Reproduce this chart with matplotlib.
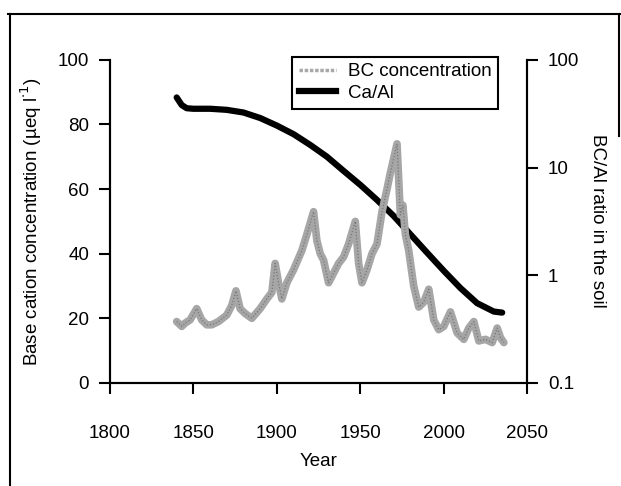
import numpy as np
import matplotlib.pyplot as plt
from matplotlib.lines import Line2D

plt.rcParams['font.family'] = ['Liberation Sans', 'DejaVu Sans']
plt.rcParams['font.size'] = 13.5

# base cation concentration in soil water (ueq/l)
bc_years = [1840, 1843, 1845, 1848, 1852, 1855, 1858, 1861, 1865, 1870,
            1873, 1875.5, 1878, 1881, 1885, 1890, 1894, 1897, 1899, 1901,
            1903, 1906, 1910, 1915, 1918, 1922, 1924, 1926, 1928, 1931,
            1934, 1937, 1940, 1943, 1947, 1949, 1951, 1954, 1957, 1960,
            1963, 1966, 1968, 1972, 1974, 1975.5, 1977, 1979, 1982, 1985,
            1988, 1991, 1994, 1997, 2000, 2004, 2008, 2012, 2015, 2018,
            2021, 2025, 2029, 2032, 2034, 2036]
bc_conc = [19, 17.5, 18.5, 19.5, 23, 19.5, 18, 18, 19, 21,
           24, 28.5, 23, 21.5, 20, 23, 26, 28, 37, 31,
           26, 31, 35, 41, 46, 53, 44, 40, 38, 31,
           34, 37, 39, 43, 50, 37, 31, 35, 40, 43,
           53, 60, 65, 74, 52, 55, 46, 41, 30, 23.5,
           25, 29, 19.5, 16.5, 17.5, 22, 15.5, 13.5, 17, 19,
           13, 13.5, 12.5, 17, 14, 12.5]

# Ca/Al ratio in the soil
ca_years = [1840, 1843, 1846, 1850, 1860, 1870, 1880, 1890, 1900, 1910,
            1920, 1930, 1940, 1950, 1960, 1970, 1980, 1990, 2000, 2010,
            2020, 2030, 2035]
ca_al = [44.7, 38, 35.5, 35.1, 35.1, 34.3, 32.4, 28.8, 24.5, 20.4,
         16.2, 12.6, 9.3, 6.9, 5.0, 3.55, 2.4, 1.62, 1.1, 0.76,
         0.55, 0.46, 0.45]

fig = plt.figure(figsize=(6.21, 4.86), dpi=100)
ax = fig.add_axes([0.177, 0.212, 0.672, 0.665])
ax2 = ax.twinx()

ax2.plot(ca_years, ca_al, color='black', lw=4.5, solid_capstyle='round')
ax2.set_yscale('log')
ax2.set_ylim(0.1, 100)
ax2.set_yticks([0.1, 1, 10, 100])
ax2.set_yticklabels(['0.1', '1', '10', '100'])
ax2.minorticks_off()
ax2.set_ylabel('BC/Al ratio in the soil', rotation=-90, labelpad=19)

# BC band drawn above the Ca/Al curve
ax.set_zorder(ax2.get_zorder() + 1)
ax.patch.set_visible(False)
ax.plot(bc_years, bc_conc, color='#a6a6a6', lw=5.5, solid_joinstyle='round',
        solid_capstyle='round')
ax.plot(bc_years, bc_conc, color='#777777', lw=0.9, ls=(0, (1, 1.5)))

ax.set_xlim(1800, 2050)
ax.set_ylim(0, 100)
ax.set_xticks(np.arange(1800, 2051, 50))
ax.set_yticks(np.arange(0, 101, 20))
ax.set_xlabel('Year', labelpad=8)
ax.set_ylabel('Base cation concentration (µeq l$^{\\cdot 1}$)', labelpad=10)

for a in (ax, ax2):
    a.spines['top'].set_visible(False)
    for s in a.spines.values():
        s.set_linewidth(1.5)
    a.tick_params(direction='out', length=8, width=1.5, pad=7)
ax.tick_params(axis='x', pad=22)

handles = [Line2D([], [], color='#a8a8a8', lw=2.5, ls=(0, (1, 0.5))),
           Line2D([], [], color='black', lw=4.5)]
leg = ax.legend(handles, ['BC concentration', 'Ca/Al'], loc='upper right',
                bbox_to_anchor=(0.93, 1.01), fancybox=False, framealpha=1,
                edgecolor='black', handlelength=2.0, borderpad=0.35,
                labelspacing=0.25, handletextpad=0.6, borderaxespad=0)
leg.get_frame().set_linewidth(1.5)

# page border around the figure
fig.add_artist(Line2D([0.013, 0.998], [0.972, 0.972], color='black', lw=1.5))
fig.add_artist(Line2D([0.016, 0.016], [0.0, 0.972], color='black', lw=1.5))
fig.add_artist(Line2D([0.997, 0.997], [0.72, 0.972], color='black', lw=1.5))

fig.savefig('out.png', dpi=100)
